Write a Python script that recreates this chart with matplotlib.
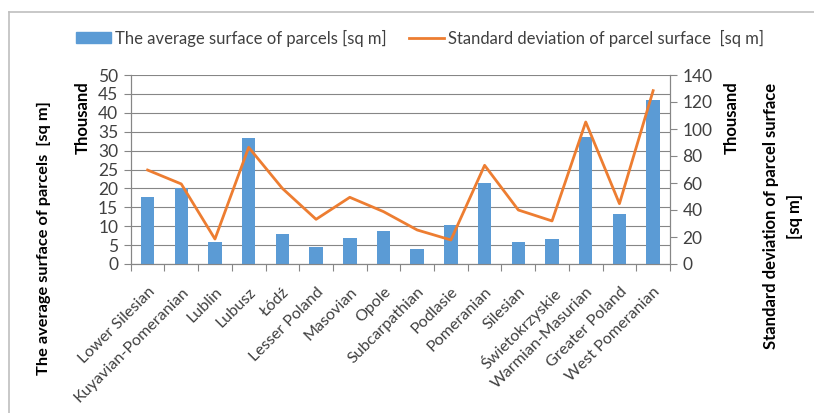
import numpy as np
import matplotlib
matplotlib.use('Agg')
import matplotlib.pyplot as plt
from matplotlib.lines import Line2D
from matplotlib.patches import Patch

plt.rcParams['font.family'] = ['Lato', 'DejaVu Sans']

regions = ['Lower Silesian', 'Kuyavian-Pomeranian', 'Lublin', 'Lubusz', 'Łódź',
           'Lesser Poland', 'Masovian', 'Opole', 'Subcarpathian', 'Podlasie',
           'Pomeranian', 'Silesian', 'Świetokrzyskie', 'Warmian-Masurian',
           'Greater Poland', 'West Pomeranian']
# thousands of sq m
avg_surface = [17.6, 20.0, 5.8, 33.3, 8.0, 4.4, 6.9, 8.6, 4.0, 10.4,
               21.5, 5.8, 6.5, 33.6, 13.3, 43.3]
std_surface = [69.6, 59.3, 18.5, 86.4, 56.0, 33.1, 49.4, 38.8, 25.2, 17.8,
               73.1, 40.0, 31.9, 105.2, 44.7, 128.4]

left_ticks = np.arange(0, 51, 5)
right_ticks = np.arange(0, 141, 20)

bar_color = '#5B9BD5'
line_color = '#ED7D31'
axis_grey = '#868686'
text_grey = '#404040'

W, H = 814, 413
fig = plt.figure(figsize=(W / 100, H / 100), dpi=100)
ax = fig.add_axes([130.7 / W, 1 - 264 / H, (670 - 130.7) / W, (264 - 75) / H])
ax2 = ax.twinx()

x = np.arange(len(regions))
ax.bar(x, avg_surface, width=0.4, color=bar_color, zorder=3)
ax2.plot(x, std_surface, color=line_color, lw=2, zorder=4)

ax.set_xlim(-0.5, len(regions) - 0.5)
ax.set_ylim(0, 50)
ax2.set_ylim(0, 140)
ax.set_yticks(left_ticks)
ax2.set_yticks(right_ticks)
ax.yaxis.grid(True, color=axis_grey, lw=0.8, zorder=0)
ax.set_axisbelow(True)

# category ticks sit between bars
ax.set_xticks(np.arange(-0.5, len(regions), 1.0))
ax.set_xticklabels([])
ax.set_xticks(x, minor=True)
ax.set_xticklabels(regions, minor=True, rotation=45, ha='right', va='top',
                   rotation_mode='anchor', fontsize=11.6, color=text_grey)
ax.tick_params(axis='x', which='minor', length=0, pad=15)
ax.tick_params(axis='x', which='major', length=5, color=axis_grey)

for a in (ax, ax2):
    a.spines['top'].set_visible(False)
    for s in ('left', 'right', 'bottom'):
        a.spines[s].set_color(axis_grey)
        a.spines[s].set_linewidth(0.8)
    a.tick_params(axis='y', length=5, color=axis_grey, labelsize=12.5,
                  labelcolor=text_grey, pad=4)

# axis titles
fig.text(44 / W, 1 - 238 / H, 'The average surface of parcels  [sq m]',
         rotation=90, ha='center', va='center', fontsize=11.8, fontweight='bold')
fig.text(83 / W, 1 - 81 / H, 'Thousand', rotation=90, ha='center', va='top',
         fontsize=12, fontweight='bold')
fig.text(732 / W, 1 - 81 / H, 'Thousand', rotation=90, ha='center', va='top',
         fontsize=12, fontweight='bold')
fig.text(783 / W, 1 - 216 / H, 'Standard deviation of parcel surface\n[sq m]',
         rotation=90, ha='center', va='center', multialignment='center',
         fontsize=12, fontweight='bold', linespacing=1.6)

handles = [Patch(color=bar_color), Line2D([], [], color=line_color, lw=2)]
labels = ['The average surface of parcels [sq m]',
          'Standard deviation of parcel surface  [sq m]']
fig.legend(handles, labels, loc='center', bbox_to_anchor=(420 / W, 1 - 38 / H),
           ncol=2, frameon=False, fontsize=12, handlelength=2.1,
           handleheight=0.6, handletextpad=0.2, columnspacing=1.4,
           labelcolor=text_grey)

# outer chart frame
frame_kw = dict(color='#BFBFBF', lw=1.2, transform=fig.transFigure)
fig.add_artist(Line2D([9 / W, 9 / W], [0, 1 - 12 / H], **frame_kw))
fig.add_artist(Line2D([9 / W, 1], [1 - 12 / H, 1 - 12 / H], **frame_kw))

fig.savefig('out.png', dpi=100)
